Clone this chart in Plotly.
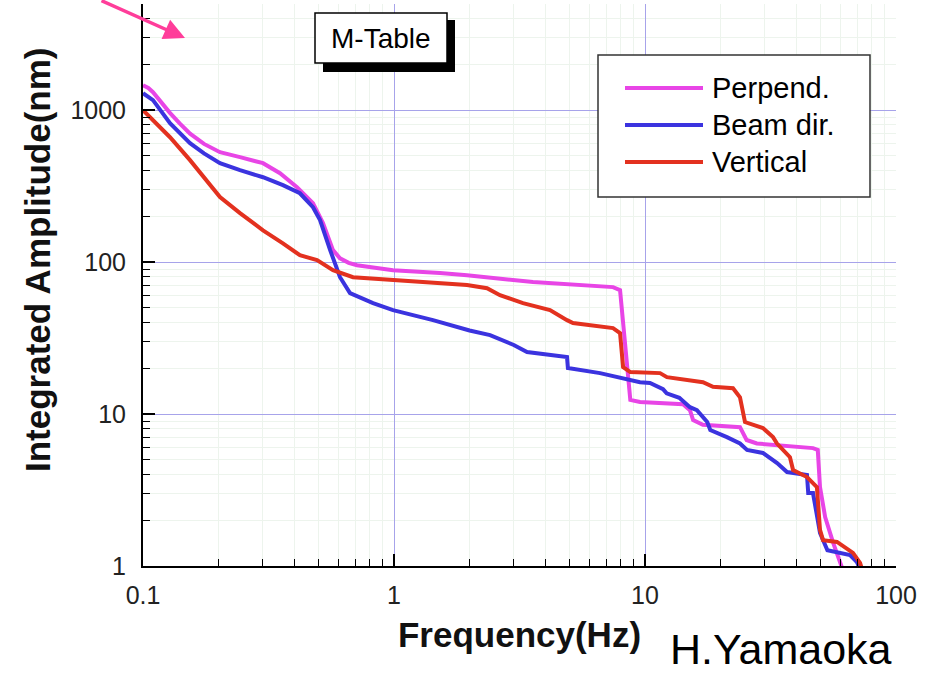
import plotly.graph_objects as go

# ---------------- data ----------------
perp_f = [0.1, 0.105, 0.1096, 0.118, 0.128, 0.14, 0.154, 0.175, 0.2026, 0.2435, 0.2700,
          0.3007, 0.3514, 0.4107, 0.4756, 0.5213, 0.55, 0.5714, 0.6094, 0.66, 0.7122,
          0.85, 0.991, 1.525, 1.954, 3.579, 5.0, 7.459, 7.954, 8.18, 8.48, 8.74, 9.55,
          14.17, 15.1, 15.55, 17.0, 23.9, 25.4, 27.9, 46.7, 48.8, 49.8, 52.2, 56.2,
          59.9, 62.0]
perp_a = [1460, 1400, 1313, 1120, 960, 820, 700, 600, 529, 491, 468,
          448, 385, 311, 244, 181, 142, 120, 106, 99, 95.5,
          91, 88.5, 84.7, 82, 73.9, 71, 68.5, 65.4, 39.7, 18.6, 12.4, 12.0,
          11.6, 10.6, 9.14, 8.5, 8.2, 6.75, 6.4, 5.97, 5.8, 3.31, 2.1, 1.42,
          1.05, 0.9]

beam_f = [0.1, 0.1096, 0.1281, 0.1539, 0.175, 0.2026, 0.2435, 0.3007, 0.361, 0.4218,
          0.4756, 0.5074, 0.5567, 0.6094, 0.668, 0.825, 0.991, 1.43, 2.0, 2.414, 3.0,
          3.389, 4.89, 4.93, 6.62, 7.95, 9.55, 10.47, 11.8, 12.2, 13.7, 15.1, 16.1,
          17.7, 18.2, 21.2, 23.9, 25.5, 29.5, 33.6, 36.8, 44.2, 44.7, 46.7, 49.8,
          53.3, 65.6, 69.9, 73.0]
beam_a = [1294, 1164, 821, 607, 520, 448, 403, 362, 321, 284,
          230, 189, 120, 79.6, 62.5, 53.7, 48.3, 41.5, 35.5, 33.1, 28.5,
          25.6, 23.7, 20.1, 18.6, 17.3, 16.2, 16.0, 14.6, 13.7, 12.8, 11.1, 10.6,
          8.86, 7.85, 7.05, 6.4, 5.8, 5.55, 4.76, 4.15, 3.97, 3.02, 3.02, 1.65,
          1.27, 1.18, 1.06, 0.9]

vert_f = [0.1, 0.114, 0.1281, 0.1539, 0.175, 0.2026, 0.2435, 0.3007, 0.361, 0.4218,
          0.4935, 0.5714, 0.6867, 0.991, 1.525, 1.954, 2.348, 2.644, 3.265, 4.183,
          4.89, 5.166, 7.459, 7.954, 8.18, 8.48, 8.74, 11.48, 12.23, 17.02, 18.66,
          22.42, 23.9, 25.03, 29.5, 32.36, 33.57, 37.8, 38.9, 44.2, 48.4, 49.8,
          51.2, 58.2, 67.4, 71.9, 74.0]
vert_a = [1000, 810, 664, 469, 365, 268, 210, 162, 133, 111,
          103, 88.5, 79.6, 76.1, 72.7, 70.6, 67.4, 60.6, 53.7, 48.3,
          41.5, 39.7, 36.8, 34.1, 20.4, 19.5, 18.9, 18.6, 17.5, 16.2, 15.1,
          14.8, 12.9, 8.86, 8.09, 7.05, 6.4, 5.2, 4.28, 3.85, 3.31, 1.73,
          1.48, 1.44, 1.22, 1.05, 0.9]

series_names = ["Perpend.", "Beam dir.", "Vertical"]
series_colors = ["#e845e6", "#3b33df", "#e3311f"]
series_freq = [perp_f, beam_f, vert_f]
series_amp = [perp_a, beam_a, vert_a]

x_tickvals = [0.1, 1, 10, 100]
x_ticktext = ["0.1", "1", "10", "100"]
y_tickvals = [1, 10, 100, 1000]
y_ticktext = ["1", "10", "100", "1000"]
x_minor = [m * d for d in (0.1, 1, 10) for m in range(2, 10)]
y_minor = [m * d for d in (1, 10, 100, 1000) for m in range(2, 10) if m * d <= 5000]

# ---------------- geometry helpers (pixel -> paper) ----------------
W, H = 944, 676
L, R, T, B = 143, 48, 4, 110
PW, PH = W - L - R, H - T - B


def px(x):
    return (x - L) / PW


def py(y):
    return (H - B - y) / PH


fig = go.Figure()
for name, col, f, a in zip(series_names, series_colors, series_freq, series_amp):
    fig.add_trace(go.Scatter(x=f, y=a, mode="lines", name=name,
                             line=dict(color=col, width=4, shape="linear"),
                             showlegend=False))

major_grid = "#a7a3ea"
minor_grid = "#edf4ed"

fig.update_layout(
    width=W, height=H,
    margin=dict(l=L, r=R, t=T, b=B, autoexpand=False),
    paper_bgcolor="white", plot_bgcolor="white",
    font=dict(family="Liberation Sans, Arial, sans-serif", color="#111111"),
    xaxis=dict(
        type="log", range=[-1, 2],
        tickmode="array", tickvals=x_tickvals, ticktext=x_ticktext,
        ticks="inside", ticklen=12, tickwidth=1.5, tickcolor="black",
        showline=True, linecolor="black", linewidth=2,
        showgrid=True, gridcolor=major_grid, gridwidth=1,
        zeroline=False, tickfont=dict(size=25, color="#222"),
        ticklabelstandoff=6,
        minor=dict(tickmode="array", tickvals=x_minor, ticks="inside", ticklen=7,
                   tickwidth=1.2, tickcolor="black", showgrid=True,
                   gridcolor=minor_grid, gridwidth=1),
        title=dict(text="<b>Frequency(Hz)</b>", font=dict(size=35, color="#111"),
                   standoff=14),
    ),
    yaxis=dict(
        type="log", range=[0, 3.699],
        tickmode="array", tickvals=y_tickvals, ticktext=y_ticktext,
        ticks="inside", ticklen=12, tickwidth=1.5, tickcolor="black",
        showline=True, linecolor="black", linewidth=2,
        showgrid=True, gridcolor=major_grid, gridwidth=1,
        zeroline=False, tickfont=dict(size=25, color="#222"),
        ticklabelstandoff=10,
        minor=dict(tickmode="array", tickvals=y_minor, ticks="inside", ticklen=7,
                   tickwidth=1.2, tickcolor="black", showgrid=True,
                   gridcolor=minor_grid, gridwidth=1),
    ),
)

shapes = []
annotations = []

# y-axis title
annotations.append(dict(text="<b>Integrated Amplitude(nm)</b>", xref="paper", yref="paper",
                        x=px(37), y=py(260), textangle=-90, showarrow=False,
                        font=dict(size=35, color="#111"), xanchor="center", yanchor="middle"))

# M-Table box with shadow
shapes.append(dict(type="rect", xref="paper", yref="paper", x0=px(323), x1=px(455),
                   y0=py(72), y1=py(20), fillcolor="black", line=dict(width=0), layer="above"))
shapes.append(dict(type="rect", xref="paper", yref="paper", x0=px(315), x1=px(447),
                   y0=py(63), y1=py(13), fillcolor="white", line=dict(color="black", width=1.5),
                   layer="above"))
annotations.append(dict(text="M-Table", xref="paper", yref="paper", x=px(381), y=py(39),
                        showarrow=False, font=dict(size=28, color="black"),
                        xanchor="center", yanchor="middle"))

# legend box
shapes.append(dict(type="rect", xref="paper", yref="paper", x0=px(598), x1=px(870),
                   y0=py(197), y1=py(55), fillcolor="white", line=dict(color="#333", width=1.5),
                   layer="above"))
row_y = [88, 125, 162]
for name, col, ry in zip(series_names, series_colors, row_y):
    shapes.append(dict(type="line", xref="paper", yref="paper", x0=px(625), x1=px(703),
                       y0=py(ry), y1=py(ry), line=dict(color=col, width=4), layer="above"))
    annotations.append(dict(text=name, xref="paper", yref="paper", x=px(710), y=py(ry),
                            showarrow=False, font=dict(size=29, color="black"),
                            xanchor="left", yanchor="middle"))

# author
annotations.append(dict(text="H.Yamaoka", xref="paper", yref="paper", x=px(668), y=py(649),
                        showarrow=False, font=dict(size=43, color="black"),
                        xanchor="left", yanchor="middle"))

# pink arrow
annotations.append(dict(text="", xref="paper", yref="paper", x=px(185), y=py(38),
                        ax=-85, ay=-46, showarrow=True, arrowhead=2, arrowsize=1.2,
                        arrowwidth=3.5, arrowcolor="#ff3d9a"))

fig.update_layout(shapes=shapes, annotations=annotations)
fig.write_html("out.html")
